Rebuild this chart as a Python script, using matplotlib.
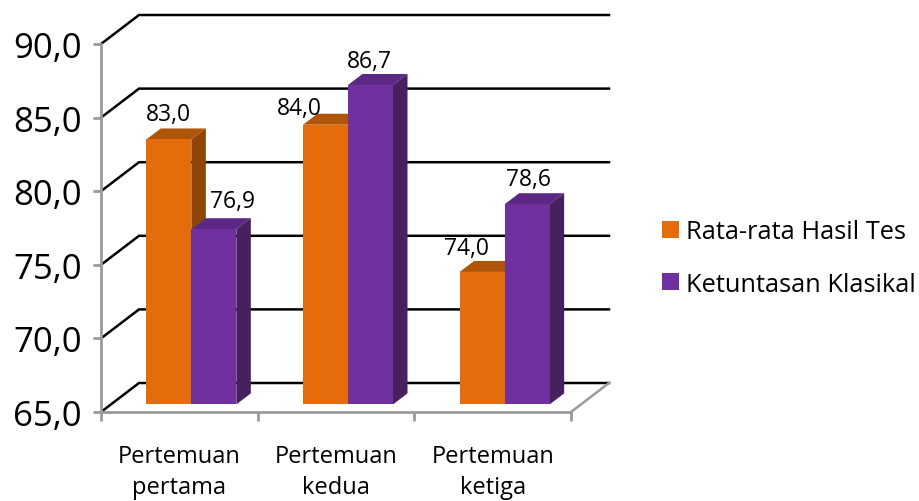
import numpy as np
import matplotlib
matplotlib.use("Agg")
import matplotlib.pyplot as plt
from matplotlib.patches import Polygon

plt.rcParams['font.family'] = ['Open Sans', 'DejaVu Sans']

categories = ["Pertemuan\npertama", "Pertemuan\nkedua", "Pertemuan\nketiga"]
hasil_tes = [83.0, 84.0, 74.0]
ketuntasan = [76.9, 86.7, 78.6]
yticks = [65, 70, 75, 80, 85, 90]
series_names = ["Rata-rata Hasil Tes", "Ketuntasan Klasikal"]

# label nudges in pixels
hasil_nudge = [(0, 25), (-26, 17), (-16, 24)]
ketuntasan_nudge = [(19, 28), (-1, 24), (1, 25)]

orange = ('#E46C0A', '#B05508', '#8F4507')
purple = ('#7030A0', '#5C2885', '#47205F')

fig = plt.figure(figsize=(9.19, 5.02), dpi=100)
W, H = 919, 502
ax = fig.add_axes([101/W, 1-413/H, 470/W, 368/H])
ax.set_xlim(0, 3)
ax.set_ylim(65, 90)

# depth of the fake 3d box, data units
dx, dy = 38/156.67, 29/14.72
# bars sit a bit inside the floor
off_x, off_y = 12/156.67, 7.6/14.72
# depth of the bars themselves
bx, by = 14.5/156.67, 11/14.72
width = 45/156.67

for s in ['top', 'right']:
    ax.spines[s].set_visible(False)
for s in ['left', 'bottom']:
    ax.spines[s].set_color('#9a9a9a')
    ax.spines[s].set_linewidth(2)

# back wall grid and left diagonals
for v in yticks:
    ax.plot([0, dx, 3+dx], [v, v+dy, v+dy], color='black', lw=1.8, clip_on=False,
            zorder=1, solid_joinstyle='miter')
# floor right edge
ax.plot([3, 3+dx], [65, 65+dy], color='#9a9a9a', lw=1.8, clip_on=False, zorder=1)


def draw_bars(x, vals, cols, nudges, label):
    base = 65 + off_y
    rects = ax.bar(x + off_x, np.array(vals) - 65, bottom=base, width=width,
                   color=cols[0], zorder=4, clip_on=False, label=label)
    for xi, v, r, nd in zip(x, vals, rects, nudges):
        left = r.get_x()
        right = left + width
        top = v + off_y
        ax.add_patch(Polygon([(left, top), (right, top), (right+bx, top+by), (left+bx, top+by)],
                             closed=True, fc=cols[1], ec='none', zorder=3, clip_on=False))
        ax.add_patch(Polygon([(right, base), (right, top), (right+bx, top+by), (right+bx, base+by)],
                             closed=True, fc=cols[2], ec='none', zorder=3, clip_on=False))
        ax.annotate(f"{v:.1f}".replace('.', ','), (left + width/2, top),
                    xytext=(nd[0], nd[1]), textcoords='offset pixels',
                    ha='center', va='center', fontsize=16.5, color='black', zorder=6)
    return rects


pos = np.arange(3) + 0.5
draw_bars(pos - width/2, hasil_tes, orange, hasil_nudge, series_names[0])
draw_bars(pos + width/2, ketuntasan, purple, ketuntasan_nudge, series_names[1])

ax.set_yticks(yticks)
ax.set_yticklabels([f"{v:.1f}".replace('.', ',') for v in yticks], fontsize=25)
ax.tick_params(axis='y', length=6, width=2, color='#9a9a9a', pad=8)
ax.set_xticks([0, 1, 2, 3])
ax.set_xticklabels([])
ax.tick_params(axis='x', which='major', length=6.5, width=2, color='#9a9a9a')
ax.set_xticks(pos, minor=True)
ax.set_xticklabels(categories, minor=True, fontsize=17, linespacing=1.38)
ax.tick_params(axis='x', which='minor', length=0, pad=23)

ax.legend(loc='center left', bbox_to_anchor=(662/W, 1-259/H), bbox_transform=fig.transFigure,
          frameon=False, fontsize=18.3, handlelength=0.67, handleheight=0.67,
          handletextpad=0.28, labelspacing=1.08, borderpad=0, borderaxespad=0)

fig.savefig('out.png', dpi=100)
